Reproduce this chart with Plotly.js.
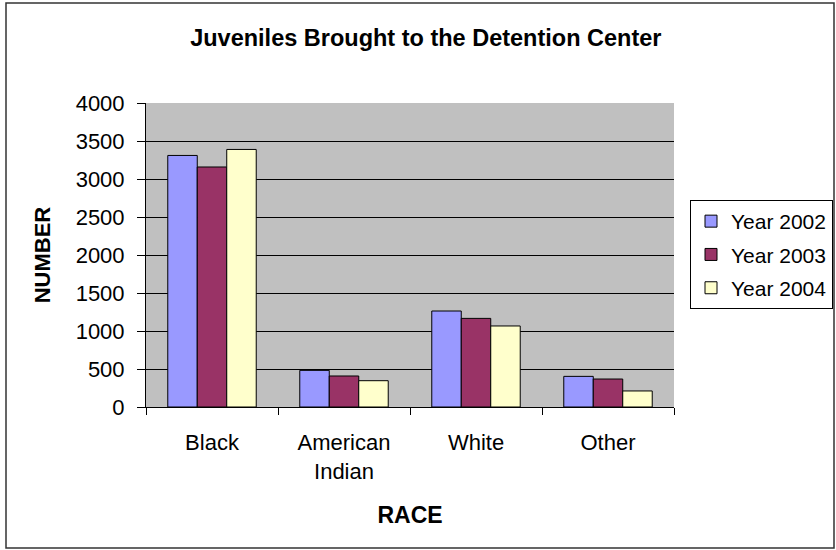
<!DOCTYPE html>
<html>
<head>
<meta charset="utf-8">
<script src="https://cdn.plot.ly/plotly-3.0.1.min.js"></script>
<style>html,body{margin:0;padding:0;background:#fff;}</style>
</head>
<body>
<div id="chart" style="width:836px;height:550px;"></div>
<script>
var categories = ["Black", "American<br>Indian", "White", "Other"];
var seriesNames = ["Year 2002", "Year 2003", "Year 2004"];
var year2002 = [3310, 482, 1263, 403];
var year2003 = [3158, 408, 1166, 368];
var year2004 = [3389, 346, 1066, 211];
var yTicks = [0, 500, 1000, 1500, 2000, 2500, 3000, 3500, 4000];
var colors = ["#9999FF", "#993366", "#FFFFCC"];

var values = [year2002, year2003, year2004];
var traces = values.map(function (v, i) {
  return {
    type: "bar",
    name: seriesNames[i],
    x: categories,
    y: v,
    legendgroup: "g" + i,
    marker: { color: colors[i], line: { color: "#000000", width: 1 } },
    hoverinfo: "x+y+name"
  };
});

var F = "Liberation Sans, Arial, sans-serif";
var layout = {
  width: 836,
  height: 550,
  margin: { l: 146, r: 162, t: 103, b: 143, autoexpand: false },
  paper_bgcolor: "#ffffff",
  plot_bgcolor: "#C0C0C0",
  font: { family: F, size: 21, color: "#000000" },
  title: {
    text: "<b>Juveniles Brought to the Detention Center</b>",
    font: { family: F, size: 23.5, color: "#000000" },
    x: 0.53, xanchor: "center", xref: "paper",
    y: 1 - 38 / 550, yanchor: "middle", yref: "container"
  },
  barmode: "group",
  bargap: 0.33,
  bargroupgap: 0,
  xaxis: {
    type: "category",
    automargin: false,
    showline: true, linecolor: "#000000", linewidth: 1,
    ticks: "outside", tickson: "boundaries", ticklen: 7, tickcolor: "#000000",
    ticklabelstandoff: 16,
    showgrid: false,
    tickfont: { family: F, size: 22, color: "#000000" },
    title: { text: "<b>RACE</b>", font: { family: F, size: 23, color: "#000000" }, standoff: 23 },
    fixedrange: true
  },
  yaxis: {
    range: [0, 4000],
    automargin: false,
    tickvals: yTicks,
    ticktext: yTicks.map(String),
    showline: true, linecolor: "#000000", linewidth: 1,
    ticks: "outside", ticklen: 8, tickcolor: "#000000",
    ticklabelstandoff: 8,
    showgrid: true, gridcolor: "#000000", gridwidth: 1,
    zeroline: false,
    tickfont: { family: F, size: 22, color: "#000000" },
    title: { text: "<b>NUMBER</b>", font: { family: F, size: 22, color: "#000000" }, standoff: 18 },
    fixedrange: true
  },
  legend: {
    x: (690 - 146) / 528, xanchor: "left",
    y: (407 - 200) / 304, yanchor: "top",
    bgcolor: "#ffffff",
    bordercolor: "#000000", borderwidth: 1,
    font: { family: F, size: 21, color: "#000000" },
    traceorder: "grouped",
    tracegroupgap: 3
  },
  shapes: [{
    type: "rect", xref: "paper", yref: "paper",
    x0: (6 - 146) / 528, x1: (834 - 146) / 528,
    y0: (407 - 548) / 304, y1: (407 - 3) / 304,
    line: { color: "#333333", width: 1.5 },
    fillcolor: "rgba(0,0,0,0)",
    layer: "below"
  }],
  showlegend: true
};

Plotly.newPlot("chart", traces, layout, { displayModeBar: false, staticPlot: true });
</script>
</body>
</html>
